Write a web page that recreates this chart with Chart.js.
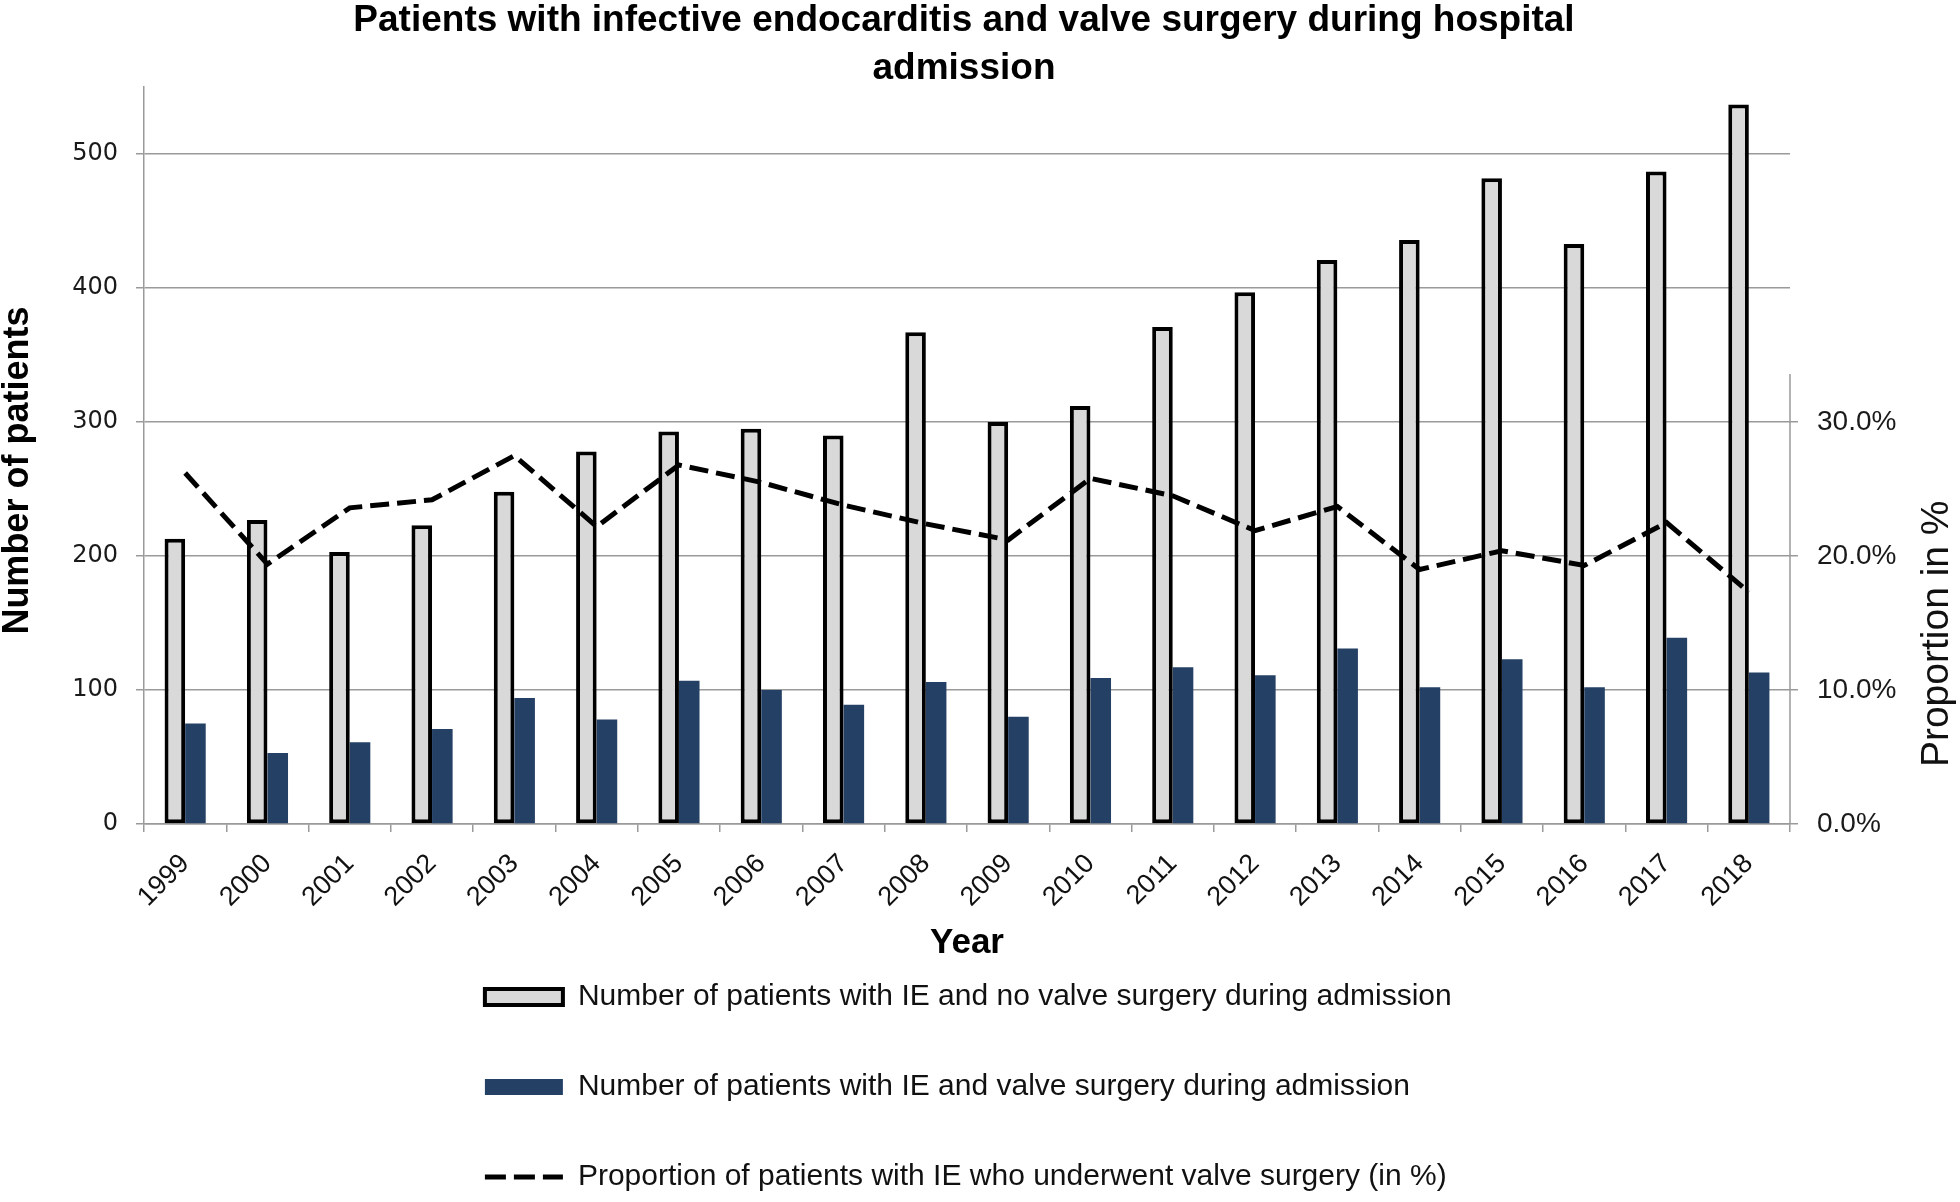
<!DOCTYPE html>
<html>
<head>
<meta charset="utf-8">
<title>Patients with infective endocarditis and valve surgery during hospital admission</title>
<script src="https://cdn.jsdelivr.net/npm/chart.js@4.4.1/dist/chart.umd.min.js"></script>
<style>
  html, body { margin: 0; padding: 0; background: #fff; }
  #wrap { width: 1960px; height: 1202px; }
</style>
</head>
<body>
<div id="wrap"><canvas id="chart" width="1960" height="1202"></canvas></div>
<script>
// Data
const years = ['1999', '2000', '2001', '2002', '2003', '2004', '2005', '2006', '2007', '2008',
  '2009', '2010', '2011', '2012', '2013', '2014', '2015', '2016', '2017', '2018'];
const noSurgery = [213, 227, 203, 223, 248, 278, 293, 295, 290, 367, 300, 312, 371, 397, 421, 436, 482, 433, 487, 537];
const withSurgery = [75, 53, 61, 71, 94, 78, 107, 100, 89, 106, 80, 109, 117, 111, 131, 102, 123, 102, 139, 113];
const proportion = [26.2, 19.4, 23.6, 24.2, 27.5, 22.2, 26.8, 25.5, 23.8, 22.4, 21.2, 25.8, 24.5, 21.9, 23.7, 19.0, 20.4, 19.3, 22.5, 17.3];
const leftTicks = [0, 100, 200, 300, 400, 500];
const rightTicks = [0, 10, 20, 30];
const rightAxisTop = 33.6; // right axis line stops here (in %)

const GRID = '#9a9a9a';
const GREY = '#d9d9d9';
const NAVY = '#254065';
const ARIAL = '"Liberation Sans", Arial, sans-serif';

// ── Extra pieces: right axis line/title, legend left edge ───────────────────
const sidePieces = {
  id: 'sidePieces',
  afterLayout(chart) {
    const lg = chart.legend;
    lg.left = chart.width * 0.2474 - lg.options.labels.padding;
  },
  afterDraw(chart) {
    const s = chart.scales.y2;
    const ctx = chart.ctx;
    ctx.save();
    ctx.strokeStyle = GRID;
    ctx.lineWidth = 1.5;
    ctx.beginPath();
    ctx.moveTo(s.left, s.getPixelForValue(0));
    ctx.lineTo(s.left, s.getPixelForValue(rightAxisTop));
    ctx.stroke();

    ctx.translate(s.left + 147, s.getPixelForValue(14.2));
    ctx.rotate(-Math.PI / 2);
    ctx.font = '39px ' + ARIAL;
    ctx.fillStyle = '#111';
    ctx.textAlign = 'center';
    ctx.textBaseline = 'middle';
    ctx.fillText('Proportion in %', 0, 0);
    ctx.restore();
  }
};

const ctx = document.getElementById('chart').getContext('2d');

new Chart(ctx, {
  data: {
    labels: years,
    datasets: [
      {
        type: 'bar',
        label: 'Number of patients with IE and no valve surgery during admission',
        data: noSurgery,
        backgroundColor: GREY,
        borderColor: '#000',
        borderWidth: 4,
        borderSkipped: false,
        yAxisID: 'y',
        order: 2,
      },
      {
        type: 'bar',
        label: 'Number of patients with IE and valve surgery during admission',
        data: withSurgery,
        backgroundColor: NAVY,
        borderWidth: 0,
        yAxisID: 'y',
        order: 2,
      },
      {
        type: 'line',
        label: 'Proportion of patients with IE who underwent valve surgery (in %)',
        data: proportion,
        borderColor: '#000',
        borderWidth: 5,
        borderDash: [19, 8],
        pointRadius: 0,
        tension: 0,
        fill: false,
        yAxisID: 'y2',
        order: 1,
      },
    ],
  },
  options: {
    responsive: false,
    animation: false,
    devicePixelRatio: 1,
    layout: { padding: { left: 0, right: 32, top: 0, bottom: 0 } },
    datasets: {
      bar: { categoryPercentage: 0.5, barPercentage: 1 },
    },
    plugins: {
      tooltip: { enabled: false },
      title: {
        display: true,
        text: ['Patients with infective endocarditis and valve surgery during hospital', 'admission'],
        color: '#000',
        font: { family: ARIAL, size: 37, weight: 'bold', lineHeight: 1.3 },
        padding: { top: -3, bottom: -6 },
      },
      legend: {
        display: true,
        position: 'bottom',
        align: 'start',
        labels: {
          color: '#111',
          font: { family: ARIAL, size: 30 },
          usePointStyle: true,
          pointStyleWidth: 78,
          boxHeight: 16,
          padding: 60,
          sort: (a, b) => a.datasetIndex - b.datasetIndex,
          generateLabels: chart => {
            const items = Chart.defaults.plugins.legend.labels.generateLabels(chart);
            items.forEach(it => {
              if (it.datasetIndex === 2) {
                it.pointStyle = 'line';
                it.lineWidth = 5;
                it.strokeStyle = '#000';
                it.lineDash = [21, 8];
              } else {
                it.pointStyle = 'rect';
              }
            });
            return items;
          },
        },
      },
    },
    scales: {
      x: {
        grid: { drawOnChartArea: false, drawTicks: true, tickLength: 8, color: GRID, lineWidth: 1.5 },
        border: { color: GRID, width: 1.5 },
        ticks: {
          color: '#111',
          font: { family: ARIAL, size: 27 },
          minRotation: 45,
          maxRotation: 45,
          autoSkip: false,
          padding: 16,
        },
        title: {
          display: true,
          text: 'Year',
          color: '#000',
          font: { family: ARIAL, size: 35, weight: 'bold', lineHeight: 1.2 },
          padding: { top: 0, bottom: -42 },
        },
        afterFit: s => { s.height = 98; },
      },
      y: {
        position: 'left',
        min: 0,
        max: 550,
        afterBuildTicks: s => { s.ticks = leftTicks.map(v => ({ value: v })); },
        grid: { color: GRID, lineWidth: 1.5, tickLength: 8 },
        border: { color: GRID, width: 1.5 },
        ticks: {
          color: '#1a1a1a',
          font: { family: '"DejaVu Sans", Verdana, sans-serif', size: 24 },
          padding: 18,
        },
        title: {
          display: true,
          text: 'Number of patients   ',
          color: '#000',
          font: { family: ARIAL, size: 36, weight: 'bold', lineHeight: 1 },
          padding: 0,
        },
        afterFit: s => { s.width = 144; },
      },
      y2: {
        position: 'right',
        min: 0,
        max: 55,
        afterBuildTicks: s => { s.ticks = rightTicks.map(v => ({ value: v })); },
        grid: { drawOnChartArea: false, color: GRID, lineWidth: 1.5, tickLength: 8 },
        border: { display: false },
        ticks: {
          color: '#1a1a1a',
          font: { family: ARIAL, size: 28 },
          padding: 19,
          callback: v => v.toFixed(1) + '%',
        },
        afterFit: s => { s.width = 138; },
      },
    },
  },
  plugins: [sidePieces],
});
</script>
</body>
</html>
